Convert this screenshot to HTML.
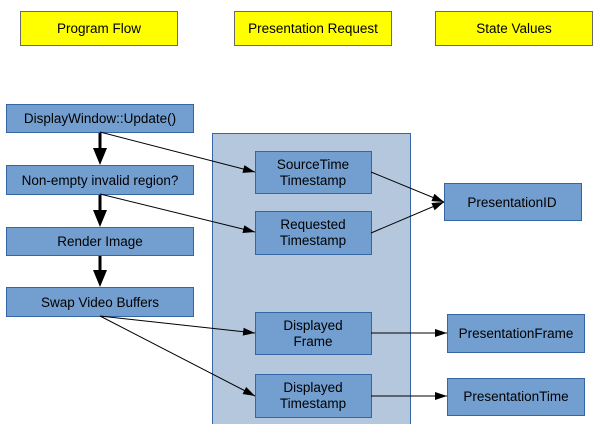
<!DOCTYPE html>
<html><head><style>body{margin:0;background:#fff}</style></head><body>
<svg width="600" height="424" xmlns="http://www.w3.org/2000/svg" font-family="Liberation Sans, sans-serif" font-size="13.5">
<defs>
<marker id="s" markerWidth="12" markerHeight="8" refX="12" refY="4" orient="auto" markerUnits="userSpaceOnUse"><path d="M0,0 L12,4 L0,8 z" fill="#000"/></marker>
</defs>
<g fill="#ffff00" stroke="#6a6a6a">
<rect x="20.5" y="11.5" width="157" height="34"/>
<rect x="234.5" y="11.5" width="157" height="34"/>
<rect x="435.5" y="11.5" width="157" height="34"/>
</g>
<g text-anchor="middle" fill="#000">
<text x="99" y="33">Program Flow</text>
<text x="313" y="33">Presentation Request</text>
<text x="514" y="33">State Values</text>
</g>
<rect x="212.5" y="133.5" width="198" height="300" fill="#b4c7dc" stroke="#3465a4"/>
<g fill="#729fcf" stroke="#3465a4">
<rect x="6.5" y="104.5" width="187" height="28"/>
<rect x="6.5" y="165.5" width="187" height="29"/>
<rect x="6.5" y="227.5" width="187" height="28"/>
<rect x="6.5" y="287.5" width="187" height="29"/>
<rect x="255.5" y="151.5" width="116" height="42"/>
<rect x="255.5" y="211.5" width="116" height="43"/>
<rect x="255.5" y="312.5" width="116" height="42"/>
<rect x="255.5" y="374.5" width="116" height="43"/>
<rect x="444.5" y="183.5" width="137" height="37"/>
<rect x="447.5" y="314.5" width="137" height="38"/>
<rect x="447.5" y="378.5" width="137" height="37"/>
</g>
<g text-anchor="middle" fill="#000">
<text x="100" y="123">DisplayWindow::Update()</text>
<text x="100" y="185">Non-empty invalid region?</text>
<text x="100" y="246">Render Image</text>
<text x="100" y="307">Swap Video Buffers</text>
<text x="313" y="169">SourceTime</text><text x="313" y="185">Timestamp</text>
<text x="313" y="229">Requested</text><text x="313" y="245">Timestamp</text>
<text x="313" y="330">Displayed</text><text x="313" y="346">Frame</text>
<text x="313" y="392">Displayed</text><text x="313" y="408">Timestamp</text>
<text x="512" y="207">PresentationID</text>
<text x="516" y="338">PresentationFrame</text>
<text x="516" y="401">PresentationTime</text>
</g>
<g stroke="#000" stroke-width="3">
<line x1="100" y1="133" x2="100" y2="150"/>
<line x1="100" y1="195" x2="100" y2="212"/>
<line x1="100" y1="256" x2="100" y2="272"/>
</g>
<g fill="#000">
<path d="M93,148 L107,148 L100,165 z"/>
<path d="M93,210 L107,210 L100,227 z"/>
<path d="M93,270 L107,270 L100,287 z"/>
</g>
<g stroke="#000" stroke-width="1" fill="none">
<line x1="100" y1="132" x2="255" y2="172" marker-end="url(#s)"/>
<line x1="100" y1="194" x2="255" y2="232" marker-end="url(#s)"/>
<line x1="100" y1="316" x2="255" y2="333" marker-end="url(#s)"/>
<line x1="100" y1="316" x2="255" y2="396" marker-end="url(#s)"/>
<line x1="371" y1="172" x2="444" y2="202" marker-end="url(#s)"/>
<line x1="371" y1="233" x2="444" y2="202" marker-end="url(#s)"/>
<line x1="371" y1="333" x2="447" y2="333" marker-end="url(#s)"/>
<line x1="371" y1="396" x2="447" y2="396" marker-end="url(#s)"/>
</g>
</svg>
</body></html>
